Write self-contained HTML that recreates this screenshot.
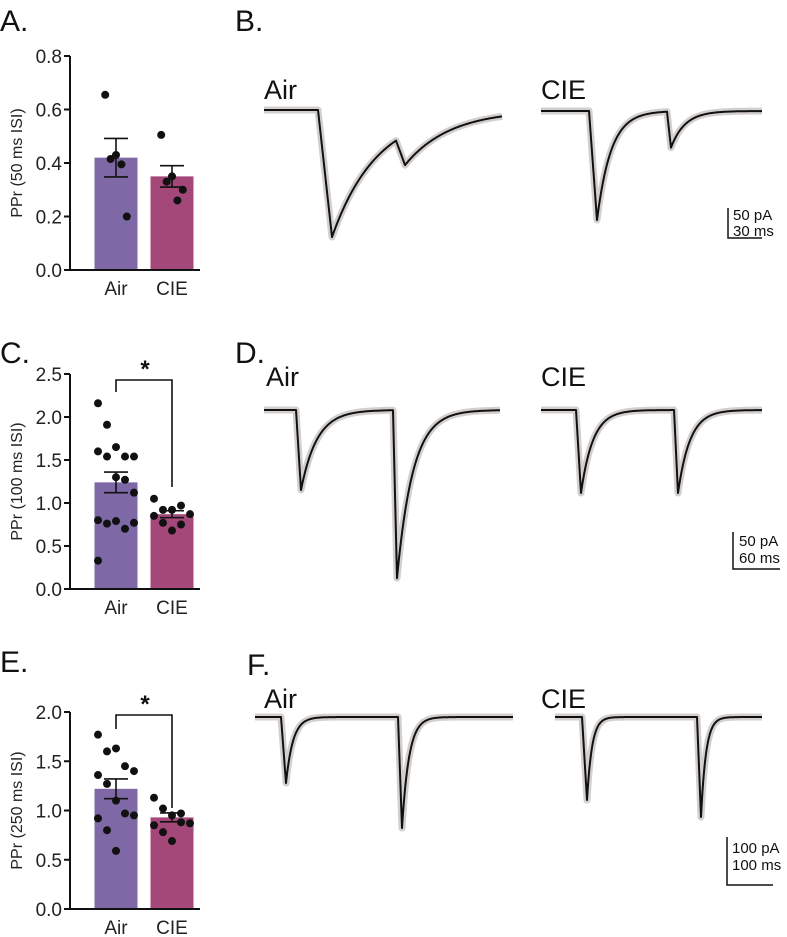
<!DOCTYPE html>
<html><head><meta charset="utf-8"><style>
body{margin:0;background:#fff;}
svg{display:block;font-family:"Liberation Sans",sans-serif;}
</style></head><body>
<svg id="fig" width="787" height="937" viewBox="0 0 787 937">
<g id="labels" fill="#111">
<text x="0" y="31" font-size="30">A.</text>
<text x="235" y="31" font-size="30">B.</text>
<text x="0" y="363" font-size="30">C.</text>
<text x="235" y="363" font-size="30">D.</text>
<text x="0" y="672" font-size="30">E.</text>
<text x="247" y="675" font-size="30">F.</text>
<text x="264" y="99" font-size="27">Air</text>
<text x="541" y="99" font-size="27">CIE</text>
<text x="266" y="386" font-size="27">Air</text>
<text x="541" y="386" font-size="27">CIE</text>
<text x="264" y="708" font-size="27">Air</text>
<text x="541" y="708" font-size="27">CIE</text>
</g>
<g id="scales" stroke="#111" stroke-width="1.5" fill="none">
<path d="M728 208 V238 H762"/>
<path d="M733 532 V569 H780"/>
<path d="M727 837 V885 H773"/>
</g>
<g fill="#111" font-size="15">
<text x="733" y="220">50 pA</text>
<text x="733" y="236">30 ms</text>
<text x="739" y="546">50 pA</text>
<text x="739" y="563">60 ms</text>
<text x="732" y="853">100 pA</text>
<text x="732" y="870">100 ms</text>
</g>
</svg>
<script>
// ---- Bar chart data ----
const categories = ["Air","CIE"];
const meanA = [0.42, 0.35];
const semA = [0.072, 0.04];
const dotsAirA = [0.655, 0.415, 0.43, 0.395, 0.2];
const dotsCieA = [0.505, 0.33, 0.35, 0.26, 0.3];
const ticksA = [0.0, 0.2, 0.4, 0.6, 0.8];
const meanC = [1.24, 0.87];
const semC = [0.12, 0.04];
const dotsAirC = [2.16,1.91,1.65,1.54,1.54,1.6,1.54,1.3,1.27,1.12,0.8,0.76,0.79,0.7,0.77,0.33];
const dotsCieC = [1.05,0.92,0.92,0.97,0.87,0.85,0.77,0.68,0.75];
const ticksC = [0.0,0.5,1.0,1.5,2.0,2.5];
const meanE = [1.22, 0.93];
const semE = [0.1, 0.045];
const dotsAirE = [1.77,1.6,1.63,1.45,1.4,1.36,1.27,1.1,0.97,0.95,0.92,0.8,0.59];
const dotsCieE = [1.13,1.02,0.95,0.97,0.87,0.85,0.78,0.69,0.88];
const ticksE = [0.0,0.5,1.0,1.5,2.0];
// ---- Trace data: [baseline, stim1 x, peak1 depth, stim2 x, peak2 depth, tau] ----
const traceBAir = [110, 318, 127, 396, 30, 45];
const traceBCie = [111, 589, 109, 667, 36, 14];
const traceDAir = [410, 296, 80, 393, 168, 16];
const traceDCie = [410, 576, 83, 674, 83, 12];
const traceFAir = [717, 281, 66, 398, 111, 7];
const traceFCie = [717, 582, 83, 697, 100, 5];

const NS="http://www.w3.org/2000/svg";
const svg=document.getElementById('fig');
function mk(tag,attrs,parent){const e=document.createElementNS(NS,tag);for(const k in attrs)e.setAttribute(k,attrs[k]);(parent||svg).appendChild(e);return e;}

function barPanel(id, y0, pxPerUnit, ticks, means, sems, dAir, dCie, title, sig){
  const g=mk('g',{});
  
  
  const ys=v=>y0-v*pxPerUnit;
  const cx=[116,172], bw=43, colors=["#7e68a6","#a34878"];
  for(let i=0;i<2;i++){
    const r=mk('rect',{x:cx[i]-bw/2,y:ys(means[i]),width:bw,height:means[i]*pxPerUnit,fill:colors[i]},g);
    
    
  }
  [dAir,dCie].forEach((arr,i)=>{
    const n=arr.length;
    arr.forEach((v,j)=>{
      const off=((j%5)-2)*9*(n>5?1:0.6);
      const c=mk('circle',{cx:cx[i]+off,cy:ys(v),r:4,fill:"#111"},g);
      
      
    });
  });
  for(let i=0;i<2;i++){
    const e=mk('path',{d:`M${cx[i]} ${ys(means[i]+sems[i])} V${ys(means[i]-sems[i])} M${cx[i]-12} ${ys(means[i]+sems[i])} H${cx[i]+12} M${cx[i]-12} ${ys(means[i]-sems[i])} H${cx[i]+12}`,stroke:"#111","stroke-width":1.6,fill:"none"},g);
    
    
  }
  const top=ys(ticks[ticks.length-1]);
  const ax=mk('path',{d:`M70 ${top} V${y0} M65 ${y0} H200`,stroke:"#111","stroke-width":2,fill:"none"},g);
  
  
  ticks.forEach(t=>{
    mk('path',{d:`M64 ${ys(t)} H70`,stroke:"#111","stroke-width":2},g);
    const tx=mk('text',{x:62,y:ys(t)+7,"font-size":19,"text-anchor":"end",fill:"#222"},g);
    tx.textContent=t.toFixed(1);
    
    
  });
  categories.forEach((c,i)=>{
    const tx=mk('text',{x:cx[i],y:y0+25,"font-size":19,"text-anchor":"middle",fill:"#222"},g);
    tx.textContent=c;
    
    
  });
  const yt=mk('text',{transform:`translate(22 ${(top+y0)/2}) rotate(-90)`,"font-size":16,"text-anchor":"middle",fill:"#222"},g);
  yt.textContent=title;
  
  
  if(sig){
    const b=mk('path',{d:`M${cx[0]} ${sig[1]} V${sig[0]} H${cx[1]} V${sig[2]}`,stroke:"#111","stroke-width":1.6,fill:"none"},g);
    
    
    const s=mk('text',{x:145,y:sig[0]-3,"font-size":24,"text-anchor":"middle",fill:"#111","font-weight":"bold"},g);
    s.textContent="*";
    
    
  }
}
barPanel('a',270,267.5,ticksA,meanA,semA,dotsAirA,dotsCieA,"PPr (50 ms ISI)",null);
barPanel('c',589,86,ticksC,meanC,semC,dotsAirC,dotsCieC,"PPr (100 ms ISI)",[380,392,487]);
barPanel('e',909,98.5,ticksE,meanE,semE,dotsAirE,dotsCieE,"PPr (250 ms ISI)",[715,729,808]);

function trace(id,x0,x1,p){
  const [base,s1,a1,s2,a2,tau]=p;
  const rise1=s1===318?14:(s1===589?8:5), rise2=s2===396?9:4;
  function val(x){
    const ev=(s,a,r)=>{
      if(x<s) return 0;
      if(x<s+r) return a*(x-s)/r;
      return a*Math.exp(-(x-s-r)/tau);
    };
    return base+ev(s1,a1,rise1)+ev(s2,a2,rise2);
  }
  let pts=[];
  for(let x=x0;x<=x1;x+=0.5) pts.push([x,val(x)]);
  const d='M'+pts.map(q=>q[0].toFixed(1)+' '+q[1].toFixed(1)).join(' L');
  const g=mk('g',{});
  
  
  mk('path',{d:d,stroke:"#d3cfcd","stroke-width":7,fill:"none","stroke-linejoin":"round"},g);
  mk('path',{d:d,stroke:"#111","stroke-width":2,fill:"none","stroke-linejoin":"round"},g);
}
trace('b-air',264,502,traceBAir);
trace('b-cie',541,762,traceBCie);
trace('d-air',264,500,traceDAir);
trace('d-cie',541,762,traceDCie);
trace('f-air',255,513,traceFAir);
trace('f-cie',555,762,traceFCie);
</script>
</body></html>
